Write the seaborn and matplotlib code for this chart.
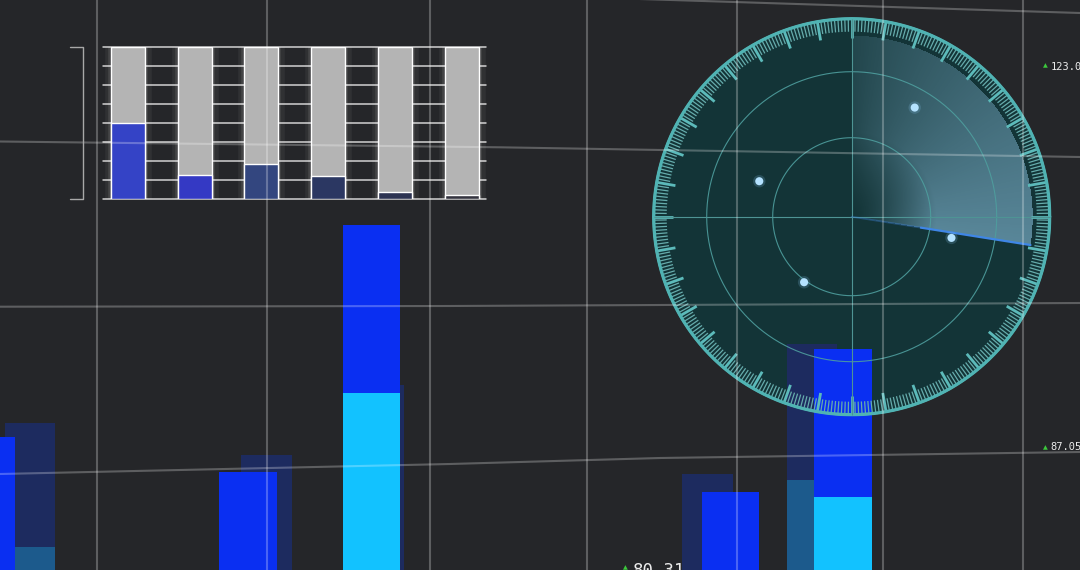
import numpy as np
import matplotlib
matplotlib.use("Agg")
import matplotlib.pyplot as plt
import matplotlib.patheffects as pe
from matplotlib.patches import Circle
import seaborn as sns

# ---------------- data ----------------
slots = ["S0", "S1", "S2", "S3", "S4", "S5", "S6", "S7", "S8", "S9"]
front_total = [133, 0, 98, 345, 0, 0, 78, 221, 0, 0]
front_cyan = [0, 0, 0, 177, 0, 0, 0, 73, 0, 0]
shadow_total = [147, 0, 115, 185, 0, 0, 96, 226, 0, 0]
shadow_light = [23, 0, 0, 0, 0, 0, 0, 90, 0, 0]

mini_cats = ["1", "2", "3", "4", "5", "6"]
mini_capacity = [8, 8, 8, 8, 8, 8]
mini_fill = [4.0, 1.3, 1.84, 1.2, 0.4, 0.2]

blip_angle = [60, 159, 348, 234]
blip_range = [126, 99, 102, 81]

readouts = ["123.05", "87.05", "80.31"]

# ---------------- layout / style ----------------
front_off = [-0.335, 0, -0.061, 0.013, 0, 0, 0.135, 0.113, 0, 0]
shadow_off = [0.043, 0, 0.10, 0.074, 0, 0, -0.065, -0.157, 0, 0]
mini_colors = ["#3443c6", "#3439c4", "#33467f", "#2b3762", "#2c3352", "#34343f"]

BG = "#252629"
W, H = 1080, 570
CX, CY = 851.7, 216.7

sns.set_theme(style="dark")
plt.rcParams["font.family"] = ["DejaVu Sans", "DejaVu Sans Mono"]

fig = plt.figure(figsize=(W / 100, H / 100), dpi=100, facecolor=BG)

# ---------- background layer (pixel space) ----------
ax_bg = fig.add_axes([0, 0, 1, 1])
ax_bg.set_xlim(0, W)
ax_bg.set_ylim(H, 0)
ax_bg.axis("off")
ax_bg.add_patch(plt.Rectangle((0, 0), W, H, color=BG, zorder=0))
ax_bg.add_patch(Circle((CX, CY), 198, color="#133437", zorder=1, lw=0))

# sweep wedge gradient
yy, xx = np.mgrid[0:H, 0:W] + 0.5
dx = xx - CX
dy = CY - yy
rr = np.hypot(dx, dy)
th = np.degrees(np.arctan2(dy, dx))
inside = (th >= -9) & (th <= 90) & (rr <= 181)
a_ang = 0.12 + 0.46 * np.clip((90 - th) / 99, 0, 1) ** 0.8
a_rad = np.clip(rr / 85, 0, 1) ** 1.3
alpha = np.where(inside, a_ang * a_rad, 0)
img = np.zeros((H, W, 4))
img[..., 0] = 140 / 255
img[..., 1] = 195 / 255
img[..., 2] = 225 / 255
img[..., 3] = alpha
ax_bg.imshow(img, extent=[0, W, H, 0], zorder=2, interpolation="bilinear")

# ---------- main bars ----------
ax_b = fig.add_axes([0, 0, 1, 1])
ax_b.set_xlim(-25 / 115, 1055 / 115)
ax_b.set_ylim(0, H)
ax_b.axis("off")
ax_b.patch.set_alpha(0)
x = np.arange(len(slots))
ax_b.bar(x + np.array(shadow_off), shadow_total, width=0.44, color="#1d2b5f", lw=0)
ax_b.bar(x + np.array(shadow_off), shadow_light, width=0.44, color="#1c5a8c", lw=0)
ax_b.bar(x + np.array(front_off), front_total, width=0.5, color="#0a2ff2", lw=0)
ax_b.bar(x + np.array(front_off), front_cyan, width=0.5, color="#12c2ff", lw=0)

# ---------- radar (polar) ----------
ax_r = fig.add_axes([(CX - 200) / W, (H - CY - 200) / H, 400 / W, 400 / H],
                    projection="polar")
ax_r.set_ylim(0, 200)
ax_r.axis("off")
t_all = np.linspace(0, 2 * np.pi, 721)
deg = np.arange(0, 360, 1.0)
minor = np.deg2rad(deg[deg % 10 != 0])
major = np.deg2rad(deg[deg % 10 == 0])
ax_r.vlines(minor, 185, 198, color="#66acac", lw=0.9)
ax_r.vlines(major, 179, 198, color="#5cbaba", lw=2.0)
ax_r.plot(t_all, np.full_like(t_all, 198), color="#50b3b3", lw=2.4)
for rad in (79, 145):
    ax_r.plot(t_all, np.full_like(t_all, rad), color="#4e9e9e", lw=0.8, alpha=0.9)
ax_r.vlines([0, np.pi / 2, np.pi, 1.5 * np.pi], 0, 198, color="#4e9494", lw=0.8)
edge = np.deg2rad(-9)
ax_r.plot([edge, edge], [0, 70], color="#3f86e6", lw=1.3, alpha=0.35)
ax_r.plot([edge, edge], [70, 181], color="#3f86e6", lw=1.6)
bt = np.deg2rad(blip_angle)
sns.scatterplot(x=bt, y=blip_range, ax=ax_r, s=80, color="#8fd0ff",
                alpha=0.18, edgecolor="none", zorder=5)
sns.scatterplot(x=bt, y=blip_range, ax=ax_r, s=34, color="#b4e2ff",
                edgecolor="none", zorder=6)
ax_r.set_xlabel("")
ax_r.set_ylabel("")

# ---------- mini bar chart (top-left) ----------
ax_in = fig.add_axes([103 / W, (H - 199.3) / H, 383 / W, 152.6 / H])
ax_in.patch.set_alpha(0)
for v in range(9):
    ax_in.axhline(v, color="#d2d2d2", lw=1.1, zorder=0.5, clip_on=False)
sns.barplot(x=mini_cats, y=mini_capacity, color="#b4b4b4", width=0.51,
            saturation=1, ax=ax_in, zorder=2)
for p in ax_in.patches:
    p.set_path_effects([pe.Stroke(linewidth=9, foreground="white", alpha=0.05),
                        pe.Stroke(linewidth=4, foreground="white", alpha=0.10),
                        pe.Normal()])
sns.barplot(x=mini_cats, y=mini_fill, hue=mini_cats, palette=mini_colors,
            width=0.51, saturation=1, legend=False, ax=ax_in, zorder=3)
ax_in.set_xlim(-0.375, 5.367)
ax_in.set_ylim(0, 8)
ax_in.axis("off")

# ---------- overlay: perspective grid, bracket, readouts ----------
ax_t = fig.add_axes([0, 0, 1, 1])
ax_t.set_xlim(0, W)
ax_t.set_ylim(H, 0)
ax_t.axis("off")
ax_t.patch.set_alpha(0)
grid_kw = dict(color="white", alpha=0.26, lw=1.5)
for gx in (97, 267, 430, 586.7, 737, 882.5, 1022.5):
    ax_t.plot([gx, gx], [0, H], **grid_kw)
ax_t.plot([640, 1080], [-1, 13], **grid_kw)
ax_t.plot([0, 500, 1080], [141.5, 147.3, 157], **grid_kw)
ax_t.plot([0, 450, 1080], [306.7, 306, 303], **grid_kw)
ax_t.plot([0, 450, 660, 1080], [474, 464, 458, 452], **grid_kw)

ax_t.plot([70, 83, 83, 70], [47, 47, 199, 199], color="#a8a8a8", lw=1)

tri_kw = dict(color="#3cc83c", fontsize=4.5, ha="center", va="center")
num_kw = dict(color="#ececec", family="DejaVu Sans Mono", ha="left")
ax_t.text(1045.7, 66, "\u25b2", **tri_kw)
ax_t.text(1051, 66.5, readouts[0], fontsize=7.5, va="center", **num_kw)
ax_t.text(1045.7, 447.3, "\u25b2", **tri_kw)
ax_t.text(1050.5, 447.5, readouts[1], fontsize=7.5, va="center", **num_kw)
ax_t.text(625, 568, "\u25b2", **tri_kw)
ax_t.text(633, 576, readouts[2], fontsize=12.5, va="baseline", **num_kw)

fig.savefig("out.png", dpi=100, facecolor=BG)
